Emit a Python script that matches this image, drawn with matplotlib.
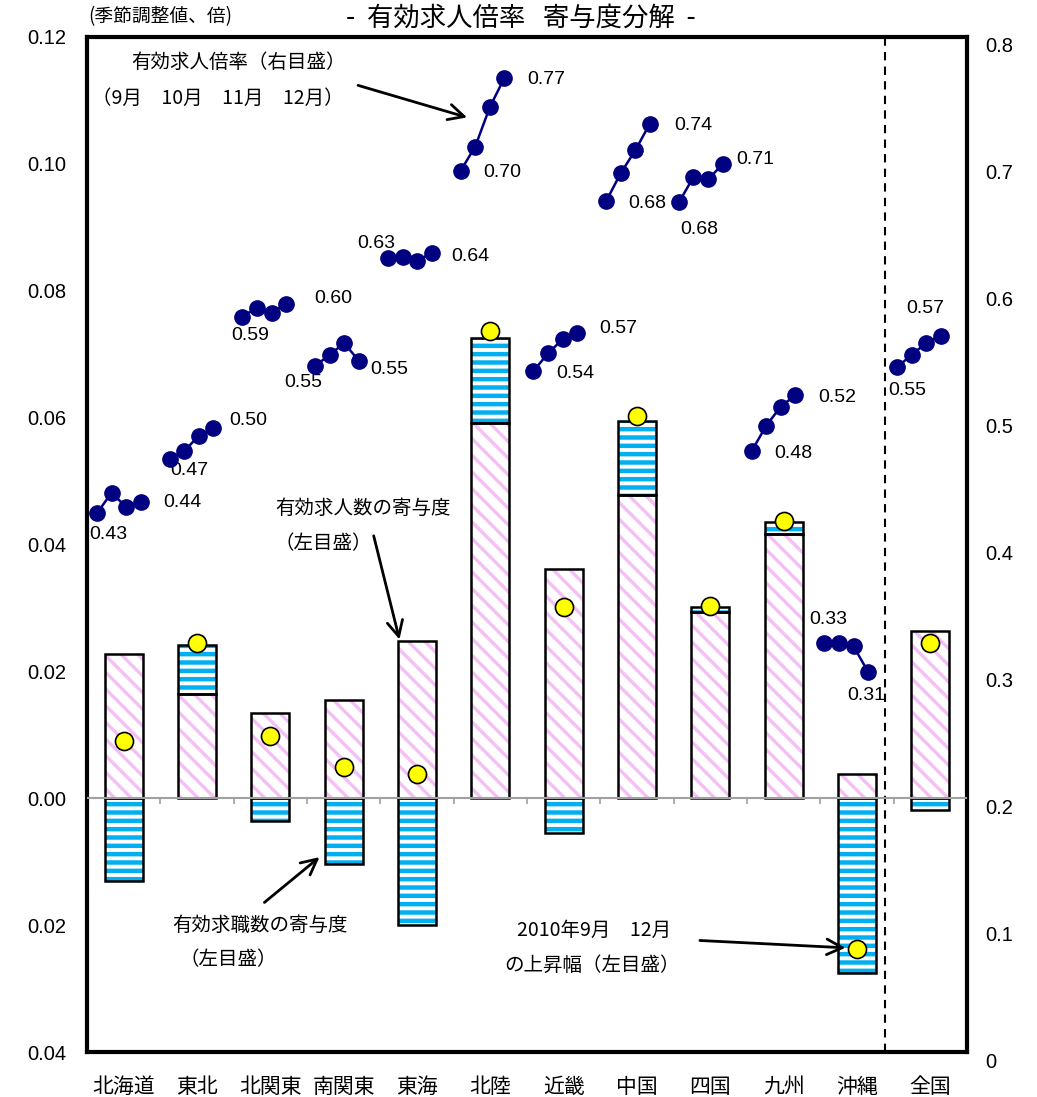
import matplotlib
matplotlib.use("Agg")
import matplotlib.pyplot as plt
import numpy as np

plt.rcParams['font.family'] = ['Noto Sans CJK JP', 'DejaVu Sans']
num_font = ['Liberation Sans', 'DejaVu Sans']

regions = ['北海道', '東北', '北関東', '南関東', '東海', '北陸', '近畿', '中国', '四国', '九州', '沖縄', '全国']
# contributions to the Sep->Dec 2010 change (left axis)
offer_contrib = [0.0227, 0.0164, 0.0134, 0.0155, 0.0248, 0.0592, 0.0361, 0.0478, 0.0294, 0.0417, 0.0039, 0.0264]
seeker_contrib = [-0.0131, 0.0078, -0.0036, -0.0104, -0.0200, 0.0133, -0.0055, 0.0117, 0.0008, 0.0019, -0.0276, -0.0019]
total_change = [0.0090, 0.0244, 0.0098, 0.0049, 0.0039, 0.0736, 0.0301, 0.0603, 0.0303, 0.0437, -0.0238, 0.0245]
# jobs-to-applicants ratio, Sep, Oct, Nov, Dec (right axis)
ratio = [
    [0.431, 0.447, 0.436, 0.440],
    [0.474, 0.480, 0.492, 0.498],
    [0.586, 0.593, 0.589, 0.596],
    [0.547, 0.556, 0.565, 0.551],
    [0.632, 0.633, 0.630, 0.636],
    [0.701, 0.720, 0.751, 0.774],
    [0.543, 0.557, 0.568, 0.573],
    [0.677, 0.699, 0.717, 0.738],
    [0.676, 0.696, 0.694, 0.706],
    [0.480, 0.500, 0.515, 0.524],
    [0.329, 0.329, 0.326, 0.306],
    [0.546, 0.556, 0.565, 0.571],
]

# label offsets (pixels) for first / last ratio values
first_off = [(11, -21), (20, -12), (8, -19), (-12, -17), (-12, 15), (42, -2),
             (42, -2), (41, -2), (20, -27), (42, -2), (4, 23), (10, -23)]
last_off = [(42, -1), (35, 8), (47, 5), (30, -9), (39, -3), (42, -2),
            (41, 5), (43, -2), (33, 5), (42, -2), (-2, -24), (-16, 27)]

W, H = 1037, 1097
fig = plt.figure(figsize=(W / 100, H / 100), dpi=100)
l, r_, t, b = 87, 967, 37, 1052
ax = fig.add_axes([l / W, 1 - b / H, (r_ - l) / W, (b - t) / H])
ax.set_xlim(0, 12)
ax.set_ylim(-0.04, 0.12)

x = np.arange(len(regions)) + 0.5
bw = 0.52
pink = '#f5bff5'
blue = '#00b0f0'

offer = np.array(offer_contrib)
seek = np.array(seeker_contrib)
seek_bottom = np.where(seek >= 0, offer, 0)

with plt.rc_context({'hatch.linewidth': 2.4}):
    ax.bar(x, offer, bw, color='white', edgecolor=pink, hatch='\\\\', linewidth=0, zorder=2)
with plt.rc_context({'hatch.linewidth': 3.2}):
    ax.bar(x, seek, bw, bottom=seek_bottom, color='white', edgecolor=blue, hatch='--', linewidth=0, zorder=2)
ax.bar(x, offer, bw, fill=False, edgecolor='black', linewidth=1.8, zorder=3)
ax.bar(x, seek, bw, bottom=seek_bottom, fill=False, edgecolor='black', linewidth=1.8, zorder=3)

# zero line with small ticks at category boundaries
ax.axhline(0, color='#a0a0a0', lw=1.5, zorder=4)
ax.vlines(np.arange(1, 12), -0.0009, 0, color='#a0a0a0', lw=1.2, zorder=4)

ax.plot(x, total_change, 'o', ms=13, mfc='#ffff00', mec='black', mew=1.2, zorder=6)

ax.axvline(10.88, color='black', lw=1.5, ls=(0, (4, 3)), zorder=1)

for s in ax.spines.values():
    s.set_linewidth(3)
ax.set_xticks(x)
ax.set_xticklabels(regions, fontsize=15)
ax.tick_params(axis='x', length=0, pad=17)
ax.set_yticks(np.arange(-0.04, 0.121, 0.02))
ax.yaxis.set_major_formatter(plt.FuncFormatter(lambda v, p: f'{abs(v):.2f}'))
ax.tick_params(axis='y', length=0, pad=15)
for lab in ax.get_yticklabels():
    lab.set_fontfamily(num_font)
    lab.set_fontsize(14.5)

# right axis (ratio), offset a few pixels down like the original
ax2 = fig.add_axes([l / W, 1 - 1060 / H, (r_ - l) / W, (b - t) / H])
ax2.set_xlim(0, 12)
ax2.set_ylim(0, 0.8)
ax2.patch.set_visible(False)
for s in ax2.spines.values():
    s.set_visible(False)
ax2.xaxis.set_visible(False)
ax2.yaxis.tick_right()
ax2.set_yticks(np.arange(0, 0.81, 0.1))
ax2.yaxis.set_major_formatter(plt.FuncFormatter(lambda v, p: '0' if v == 0 else f'{v:.1f}'))
ax2.tick_params(axis='y', length=0, pad=13)
for lab in ax2.get_yticklabels():
    lab.set_fontfamily(num_font)
    lab.set_fontsize(14.5)

for g, vals in enumerate(ratio):
    px = 0.136 + (5 * g + np.arange(4)) * 0.1984
    ax2.plot(px, vals, '-o', color='#000080', lw=1.8, ms=11, zorder=5)
    ax2.annotate(f'{vals[0]:.2f}', (px[0], vals[0]), xytext=first_off[g], textcoords='offset pixels',
                 ha='center', va='center', fontsize=14, family=num_font)
    ax2.annotate(f'{vals[-1]:.2f}', (px[-1], vals[-1]), xytext=last_off[g], textcoords='offset pixels',
                 ha='center', va='center', fontsize=14, family=num_font)

arrow = dict(arrowstyle='->', color='black', lw=2, mutation_scale=28)
fs = 14
ax.text(2.06, 0.1160, '有効求人倍率（右目盛）', ha='center', va='center', fontsize=fs)
ax.text(1.79, 0.1103, '（9月　10月　11月　12月）', ha='center', va='center', fontsize=fs)
ax.annotate('', xy=(5.22, 0.1072), xytext=(3.66, 0.1125), arrowprops=arrow)

ax.text(3.76, 0.0457, '有効求人数の寄与度', ha='center', va='center', fontsize=fs)
ax.text(3.22, 0.0402, '（左目盛）', ha='center', va='center', fontsize=fs)
ax.annotate('', xy=(4.27, 0.0246), xytext=(3.90, 0.0418), arrowprops=arrow)

ax.text(2.36, -0.0200, '有効求職数の寄与度', ha='center', va='center', fontsize=fs)
ax.text(1.92, -0.0255, '（左目盛）', ha='center', va='center', fontsize=fs)
ax.annotate('', xy=(3.20, -0.0090), xytext=(2.39, -0.0167), arrowprops=arrow)

ax.text(6.91, -0.0208, '2010年9月　12月', ha='center', va='center', fontsize=fs)
ax.text(6.89, -0.0263, 'の上昇幅（左目盛）', ha='center', va='center', fontsize=fs)
ax.annotate('', xy=(10.38, -0.0236), xytext=(8.32, -0.0224), arrowprops=arrow)

fig.text(521 / W, 1 - 18 / H, '-  有効求人倍率   寄与度分解  -', ha='center', va='center', fontsize=19)
fig.text(88 / W, 1 - 17 / H, '(季節調整値、倍)', ha='left', va='center', fontsize=13.5)

fig.savefig('out.png', dpi=100)
